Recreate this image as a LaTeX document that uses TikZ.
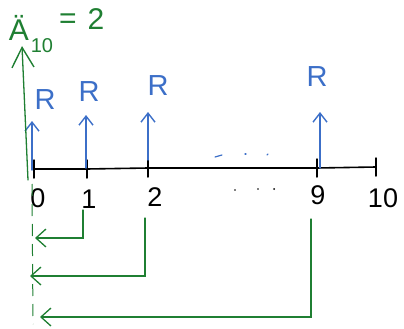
\documentclass[tikz,border=0pt]{standalone}
\usepackage{fontspec}
\setsansfont{Liberation Sans}
\usetikzlibrary{arrows.meta}
\definecolor{penblue}{HTML}{3C6FC8}
\definecolor{pengreen}{HTML}{1F7F32}
\tikzset{
  axisline/.style={black, line width=1.6pt, line cap=round},
  tickmark/.style={black, line width=1.5pt, line cap=round},
  uparrow/.style={penblue, line width=1.4pt, line cap=round, -{Straight Barb[length=9pt,width=14pt,line width=1.4pt]}},
  backarrow/.style={pengreen, line width=1.2pt, line cap=round, -{Straight Barb[length=10pt,width=18pt,line width=1.3pt]}},
  numlbl/.style={black, font=\sffamily\fontsize{27}{27}\selectfont, inner sep=0pt},
  rlbl/.style={penblue, font=\sffamily\fontsize{29}{29}\selectfont, inner sep=0pt},
  greenlbl/.style={pengreen, font=\sffamily\fontsize{30}{30}\selectfont, inner sep=0pt},
  dotmark/.style={line width=1.2pt, line cap=round}
}
\begin{document}
\begin{tikzpicture}[x=1pt,y=-1pt]
\useasboundingbox (0,0) rectangle (404,329);
% timeline
\coordinate (t0) at (34,169);
\coordinate (t1) at (87,169);
\coordinate (t2) at (148,168);
\coordinate (t9) at (317,168);
\coordinate (t10) at (376,167);
\draw[axisline] (t0) -- (t1) -- (t2) -- (t9) -- (t10);
\foreach \n in {t0,t1,t2,t9,t10}
  \draw[tickmark] ([yshift=-9pt]\n) -- ([yshift=9pt]\n);
% number labels
\node[numlbl] (n0) at (38,198) {0};
\node[numlbl] (n1) at (89,199) {1};
\node[numlbl] (n2) at (155,197) {2};
\node[numlbl] (n9) at (318,195) {9};
\node[numlbl] (n10) at (383,198) {10};
% payments
\node[rlbl] (r0) at (45,100) {R};
\node[rlbl] (r1) at (89,92) {R};
\node[rlbl] (r2) at (158,86) {R};
\node[rlbl] (r9) at (317,77) {R};
\coordinate (p0) at (32,121);
\coordinate (p1) at (86,115);
\coordinate (p2) at (148,112);
\coordinate (p9) at (320,112);
\draw[uparrow] (32,170) -- (p0);
\draw[uparrow] (86,168) -- (p1);
\draw[uparrow] (148,160) -- (p2);
\draw[uparrow] (320,168) -- (p9);
% dots
\draw[penblue,dotmark] (215,157) -- (222,155);
\draw[penblue,dotmark] (245,154) -- (246,154);
\draw[penblue,dotmark] (267,155) -- (268,154);
\fill[black] (235,190) circle (0.8pt);
\fill[black] (258,189) circle (0.8pt);
\fill[black] (274,189) circle (1pt);
% annuity value arrow
\node[greenlbl] (A) at (19,28) {Ä};
\node[pengreen, font=\sffamily\fontsize{20}{20}\selectfont, inner sep=0pt] (sub) at (42,46) {10};
\node[greenlbl] (eq) at (68,21) {=};
\node[greenlbl] (two) at (96,19) {2};
\coordinate (top) at (22,46);
\draw[pengreen, line width=1.3pt, line cap=round, -{Straight Barb[length=20pt,width=22pt,line width=1.4pt]}] (28,180) -- (top);
\draw[pengreen, line width=1pt, dashed, dash pattern=on 12pt off 8pt] (32,184) -- (33,324);
% discounting arrows
\coordinate (d1) at (35,238);
\coordinate (d2) at (30,276);
\coordinate (d9) at (40,317);
\draw[backarrow] (83,210) |- (d1);
\draw[backarrow] (145,218) |- (d2);
\draw[backarrow] (311,219) |- (d9);
\end{tikzpicture}
\end{document}
